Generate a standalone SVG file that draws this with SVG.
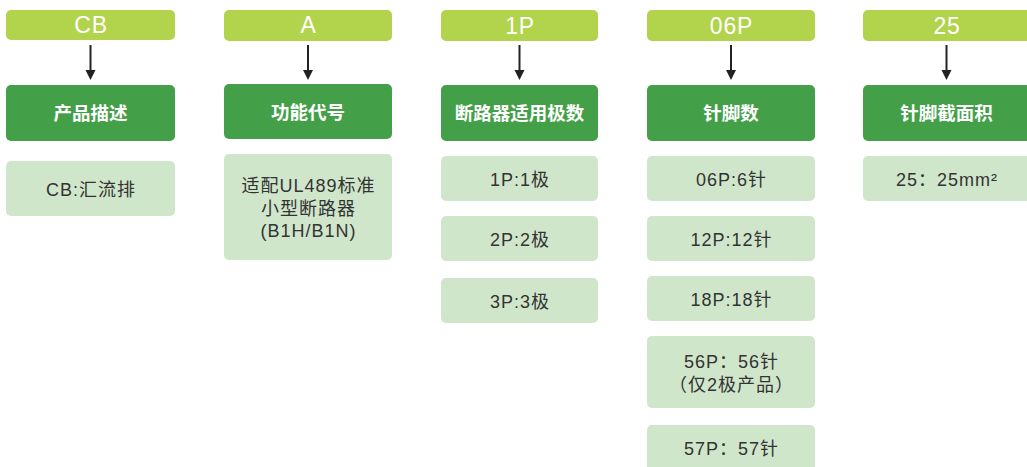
<svg xmlns="http://www.w3.org/2000/svg" width="1027" height="467" viewBox="0 0 1027 467">
<style>
.code{fill:#b2d34c}
.head{fill:#44a048}
.opt{fill:#d0e6cb}
.tc{font-family:"Liberation Sans",Arial,sans-serif;font-size:23px;letter-spacing:0.8px;fill:#fff;text-anchor:middle}
.th{font-family:"Noto Sans CJK SC",sans-serif;font-size:18.5px;font-weight:bold;fill:#fff;text-anchor:middle}
.to{font-family:"Liberation Sans","Noto Sans CJK SC",sans-serif;font-size:18px;letter-spacing:1px;fill:#333;text-anchor:middle}
.conn{stroke:#222;stroke-width:2;fill:none}
.ah{fill:#222}
</style>
<g id="connectors">
<path class="conn" d="M90.5,45 V70"/><path class="ah" d="M85.5,70 H95.5 L90.5,80 Z"/>
<path class="conn" d="M308,45 V70"/><path class="ah" d="M303,70 H313 L308,80 Z"/>
<path class="conn" d="M519.5,45 V70"/><path class="ah" d="M514.5,70 H524.5 L519.5,80 Z"/>
<path class="conn" d="M731,45 V70"/><path class="ah" d="M726,70 H736 L731,80 Z"/>
<path class="conn" d="M946.5,45 V70"/><path class="ah" d="M941.5,70 H951.5 L946.5,80 Z"/>
</g>
<g id="col1">
<g id="code-cb"><rect class="code" x="6" y="10" width="169" height="30" rx="5"/><text class="tc" x="91" y="33">CB</text></g>
<g id="head-cb"><rect class="head" x="6" y="85" width="169" height="56" rx="5"/><text class="th" x="90.5" y="120">产品描述</text></g>
<g id="opt-cb"><rect class="opt" x="6" y="161" width="169" height="55" rx="5"/><text class="to" x="91" y="196">CB:汇流排</text></g>
</g>
<g id="col2">
<g id="code-a"><rect class="code" x="224" y="10" width="168" height="31" rx="5"/><text class="tc" x="308.5" y="33">A</text></g>
<g id="head-a"><rect class="head" x="224" y="84" width="168" height="55" rx="5"/><text class="th" x="308" y="119">功能代号</text></g>
<g id="opt-a"><rect class="opt" x="224" y="154" width="168" height="106" rx="5"/>
<text class="to" x="308.5" y="192">适配UL489标准</text>
<text class="to" x="308.5" y="215">小型断路器</text>
<text class="to" x="308.5" y="237">(B1H/B1N)</text></g>
</g>
<g id="col3">
<g id="code-1p"><rect class="code" x="441" y="10" width="157" height="31" rx="5"/><text class="tc" x="520" y="34">1P</text></g>
<g id="head-1p"><rect class="head" x="441" y="85" width="157" height="56" rx="5"/><text class="th" x="519.5" y="120">断路器适用极数</text></g>
<g id="opt-1p"><rect class="opt" x="441" y="156" width="157" height="45" rx="5"/><text class="to" x="520" y="186">1P:1极</text></g>
<g id="opt-2p"><rect class="opt" x="441" y="216" width="157" height="45" rx="5"/><text class="to" x="520" y="246">2P:2极</text></g>
<g id="opt-3p"><rect class="opt" x="441" y="278" width="157" height="45" rx="5"/><text class="to" x="520" y="308">3P:3极</text></g>
</g>
<g id="col4">
<g id="code-06p"><rect class="code" x="647" y="10" width="168" height="31" rx="5"/><text class="tc" x="731.5" y="34">06P</text></g>
<g id="head-06p"><rect class="head" x="647" y="85" width="168" height="56" rx="5"/><text class="th" x="731" y="120">针脚数</text></g>
<g id="opt-06p"><rect class="opt" x="647" y="156" width="168" height="45" rx="5"/><text class="to" x="731.5" y="186">06P:6针</text></g>
<g id="opt-12p"><rect class="opt" x="647" y="216" width="168" height="45" rx="5"/><text class="to" x="731.5" y="246">12P:12针</text></g>
<g id="opt-18p"><rect class="opt" x="647" y="276" width="168" height="45" rx="5"/><text class="to" x="731.5" y="306">18P:18针</text></g>
<g id="opt-56p"><rect class="opt" x="647" y="336" width="168" height="72" rx="5"/>
<text class="to" x="731.5" y="368">56P：56针</text>
<text class="to" x="731.5" y="391">（仅2极产品）</text></g>
<g id="opt-57p"><rect class="opt" x="647" y="425" width="168" height="50" rx="5"/><text class="to" x="731.5" y="455">57P：57针</text></g>
</g>
<g id="col5">
<g id="code-25"><rect class="code" x="863" y="10" width="175" height="31" rx="5"/><text class="tc" x="947" y="34">25</text></g>
<g id="head-25"><rect class="head" x="863" y="85" width="175" height="56" rx="5"/><text class="th" x="946.5" y="120">针脚截面积</text></g>
<g id="opt-25"><rect class="opt" x="863" y="156" width="175" height="45" rx="5"/><text class="to" x="947" y="186">25：25mm²</text></g>
</g>
</svg>
